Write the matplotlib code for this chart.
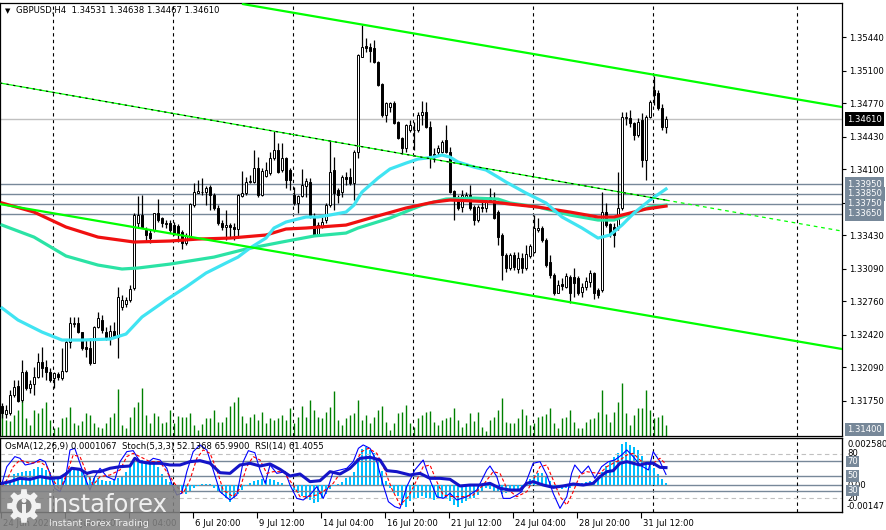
import numpy as np
import matplotlib
matplotlib.use("Agg")
import matplotlib.pyplot as plt
from matplotlib import transforms
from matplotlib.patches import Rectangle, Polygon, Circle

# ---- GBPUSD H4 candles ----
open_ = [
    1.31697, 1.31616, 1.31626, 1.31809, 1.31900, 1.31758, 1.32042, 1.31880, 1.31920, 1.31992,
    1.32144, 1.32093, 1.32042, 1.31981, 1.32022, 1.31981, 1.32052, 1.32347, 1.32529, 1.32540,
    1.32448, 1.32296, 1.32286, 1.32134, 1.32499, 1.32570, 1.32448, 1.32397, 1.32458, 1.32397,
    1.32702, 1.32732, 1.32773, 1.32895, 1.33555, 1.33636, 1.33484, 1.33453, 1.33484, 1.33656,
    1.33605, 1.33544, 1.33555, 1.33534, 1.33524, 1.33463, 1.33352, 1.33412, 1.33737, 1.33859,
    1.33869, 1.33869, 1.33920, 1.33839, 1.33707, 1.33555, 1.33514, 1.33534, 1.33514, 1.33494,
    1.33829, 1.33859, 1.33971, 1.33971, 1.34113, 1.33839, 1.34032, 1.34062, 1.34214, 1.34296,
    1.34093, 1.34214, 1.34093, 1.33839, 1.33758, 1.33829, 1.33930, 1.33971, 1.33616, 1.33433,
    1.33514, 1.33585, 1.33737, 1.34093, 1.33890, 1.33869, 1.34022, 1.34022, 1.33961, 1.34275,
    1.35239, 1.35351, 1.35341, 1.35331, 1.35189, 1.34965, 1.34651, 1.34732, 1.34773, 1.34580,
    1.34417, 1.34316, 1.34499, 1.34499, 1.34499, 1.34651, 1.34681, 1.34529, 1.34255, 1.34275,
    1.34275, 1.34397, 1.34275, 1.33879, 1.33818, 1.33717, 1.33808, 1.33839, 1.33717, 1.33585,
    1.33717, 1.33707, 1.33818, 1.33788, 1.33666, 1.33433, 1.33230, 1.33098, 1.33230, 1.33088,
    1.33199, 1.33098, 1.33220, 1.33260, 1.33484, 1.33504, 1.33382, 1.33159, 1.33027, 1.32844,
    1.32935, 1.32905, 1.33007, 1.33007, 1.32996, 1.32854, 1.32905, 1.32956, 1.33047, 1.32875,
    1.32875, 1.33666, 1.33544, 1.33514, 1.33504, 1.33707, 1.34620, 1.34620, 1.34570, 1.34448,
    1.34600, 1.34194, 1.34630, 1.34905, 1.34874, 1.34722, 1.34531]
high = [
    1.31727, 1.31707, 1.31860, 1.31961, 1.31961, 1.32164, 1.32063, 1.31961, 1.32093, 1.32235,
    1.32296, 1.32164, 1.32083, 1.32042, 1.32042, 1.32286, 1.32367, 1.32600, 1.32600, 1.32600,
    1.32448, 1.32367, 1.32387, 1.32509, 1.32651, 1.32621, 1.32499, 1.32519, 1.32550, 1.32905,
    1.32824, 1.32803, 1.32925, 1.33656, 1.33829, 1.33839, 1.33514, 1.33484, 1.33656, 1.33798,
    1.33616, 1.33585, 1.33585, 1.33565, 1.33544, 1.33484, 1.33453, 1.33758, 1.33961, 1.33991,
    1.34011, 1.33930, 1.33940, 1.33859, 1.33737, 1.33585, 1.33687, 1.33555, 1.33555, 1.33849,
    1.34082, 1.34022, 1.34042, 1.34296, 1.34224, 1.34113, 1.34174, 1.34275, 1.34488, 1.34367,
    1.34367, 1.34224, 1.34113, 1.33920, 1.33839, 1.34103, 1.34011, 1.34011, 1.33656, 1.33565,
    1.33616, 1.33758, 1.34397, 1.34224, 1.33910, 1.34042, 1.34072, 1.34113, 1.34296, 1.35270,
    1.35564, 1.35432, 1.35382, 1.35412, 1.35199, 1.34976, 1.34783, 1.34783, 1.34793, 1.34590,
    1.34427, 1.34559, 1.34600, 1.34580, 1.34681, 1.34793, 1.34783, 1.34590, 1.34316, 1.34346,
    1.34397, 1.34549, 1.34326, 1.33890, 1.33839, 1.33890, 1.33869, 1.33940, 1.33737, 1.33737,
    1.33768, 1.33818, 1.33910, 1.33869, 1.33687, 1.33453, 1.33250, 1.33250, 1.33260, 1.33260,
    1.33250, 1.33331, 1.33341, 1.33636, 1.33605, 1.33524, 1.33402, 1.33230, 1.33047, 1.32976,
    1.32996, 1.33047, 1.33027, 1.33098, 1.33017, 1.32946, 1.33007, 1.33078, 1.33057, 1.32895,
    1.33869, 1.33758, 1.33555, 1.33555, 1.34072, 1.34681, 1.34681, 1.34702, 1.34580, 1.34620,
    1.34671, 1.34651, 1.34803, 1.35047, 1.34905, 1.34762, 1.34638]
low = [
    1.31575, 1.31575, 1.31606, 1.31788, 1.31738, 1.31738, 1.31860, 1.31829, 1.31809, 1.31981,
    1.31992, 1.31961, 1.31941, 1.31880, 1.31961, 1.31961, 1.32042, 1.32286, 1.32499, 1.32438,
    1.32266, 1.32195, 1.32113, 1.32134, 1.32489, 1.32438, 1.32367, 1.32316, 1.32387, 1.32185,
    1.32672, 1.32702, 1.32753, 1.32875, 1.33514, 1.33504, 1.33362, 1.33352, 1.33463, 1.33565,
    1.33514, 1.33504, 1.33453, 1.33433, 1.33362, 1.33291, 1.33331, 1.33402, 1.33717, 1.33859,
    1.33839, 1.33737, 1.33687, 1.33687, 1.33534, 1.33484, 1.33382, 1.33402, 1.33382, 1.33402,
    1.33818, 1.33839, 1.33961, 1.33961, 1.33818, 1.33829, 1.34022, 1.34042, 1.34194, 1.34062,
    1.34072, 1.33910, 1.33890, 1.33737, 1.33656, 1.33818, 1.33818, 1.33605, 1.33423, 1.33423,
    1.33504, 1.33555, 1.33717, 1.33687, 1.33758, 1.33818, 1.33940, 1.33940, 1.33788, 1.34214,
    1.35239, 1.35290, 1.35189, 1.35179, 1.34945, 1.34630, 1.34580, 1.34681, 1.34559, 1.34407,
    1.34255, 1.34275, 1.34478, 1.34296, 1.34478, 1.34549, 1.34519, 1.34113, 1.34174, 1.34245,
    1.34265, 1.34265, 1.33859, 1.33585, 1.33687, 1.33666, 1.33788, 1.33687, 1.33534, 1.33565,
    1.33666, 1.33666, 1.33768, 1.33595, 1.33331, 1.32976, 1.33057, 1.33078, 1.33078, 1.33047,
    1.33047, 1.33078, 1.33199, 1.33250, 1.33463, 1.33362, 1.33108, 1.32996, 1.32824, 1.32844,
    1.32875, 1.32895, 1.32743, 1.32803, 1.32824, 1.32803, 1.32875, 1.32905, 1.32783, 1.32793,
    1.32854, 1.33514, 1.33412, 1.33311, 1.33484, 1.33687, 1.34549, 1.34529, 1.34397, 1.34427,
    1.34123, 1.33991, 1.34620, 1.34752, 1.34702, 1.34499, 1.34467]
close_ = [
    1.31626, 1.31656, 1.31809, 1.31890, 1.31748, 1.32042, 1.31880, 1.31920, 1.31992, 1.32144,
    1.32083, 1.32042, 1.31961, 1.32032, 1.31992, 1.32052, 1.32347, 1.32540, 1.32540, 1.32448,
    1.32286, 1.32276, 1.32134, 1.32499, 1.32590, 1.32468, 1.32397, 1.32458, 1.32397, 1.32803,
    1.32773, 1.32773, 1.32885, 1.33636, 1.33636, 1.33514, 1.33433, 1.33402, 1.33656, 1.33585,
    1.33555, 1.33555, 1.33484, 1.33453, 1.33443, 1.33352, 1.33423, 1.33747, 1.33869, 1.33879,
    1.33869, 1.33910, 1.33839, 1.33707, 1.33555, 1.33514, 1.33534, 1.33514, 1.33494, 1.33839,
    1.33859, 1.33971, 1.33981, 1.34113, 1.33839, 1.34082, 1.34093, 1.34214, 1.34296, 1.34072,
    1.34214, 1.33991, 1.33991, 1.33758, 1.33829, 1.33940, 1.33981, 1.33616, 1.33433, 1.33534,
    1.33565, 1.33737, 1.34072, 1.33859, 1.33839, 1.34022, 1.34001, 1.33961, 1.34275, 1.35260,
    1.35341, 1.35331, 1.35300, 1.35189, 1.34955, 1.34651, 1.34773, 1.34773, 1.34570, 1.34417,
    1.34316, 1.34549, 1.34549, 1.34499, 1.34651, 1.34681, 1.34529, 1.34245, 1.34224, 1.34316,
    1.34377, 1.34275, 1.33869, 1.33808, 1.33707, 1.33839, 1.33839, 1.33707, 1.33585, 1.33717,
    1.33707, 1.33768, 1.33788, 1.33605, 1.33412, 1.33230, 1.33098, 1.33230, 1.33108, 1.33199,
    1.33098, 1.33240, 1.33321, 1.33504, 1.33504, 1.33382, 1.33128, 1.33027, 1.32844, 1.32925,
    1.32915, 1.33017, 1.32844, 1.32946, 1.32844, 1.32905, 1.32966, 1.33047, 1.32844, 1.32824,
    1.33666, 1.33534, 1.33443, 1.33433, 1.33707, 1.34630, 1.34630, 1.34570, 1.34448, 1.34580,
    1.34194, 1.34630, 1.34783, 1.34854, 1.34722, 1.34529, 1.34610]
volume = [
    2300, 1600, 1500, 2100, 2600, 4500, 1800, 1100, 2600, 2300,
    2800, 3400, 1600, 800, 900, 1800, 1900, 2900, 1300, 1100,
    1500, 2300, 2100, 1300, 900, 800, 1300, 1900, 2300, 4700,
    1100, 800, 1900, 2900, 3400, 4800, 2100, 1300, 2300, 2000,
    1300, 1400, 2600, 1300, 2000, 1900, 1900, 2300, 1100, 600,
    1200, 1800, 1800, 2600, 1400, 1400, 1900, 3000, 3400, 3900,
    2000, 1300, 1900, 2200, 1600, 2400, 1300, 1800, 1600, 1800,
    2100, 1600, 2800, 1300, 1900, 3000, 1900, 3600, 2600, 1900,
    1800, 2400, 2900, 4500, 1600, 1100, 1800, 2100, 2300, 3600,
    1600, 2100, 1300, 1900, 2600, 3000, 1400, 600, 1300, 2300,
    2400, 3100, 1300, 900, 1800, 2100, 2400, 2500, 1400, 1100,
    1600, 1800, 1900, 2800, 1600, 900, 1300, 2300, 1500, 2400,
    900, 500, 1600, 1900, 2600, 3800, 1400, 1300, 1300, 1800,
    2700, 2100, 1100, 1300, 1900, 2000, 2200, 2800, 1300, 800,
    1800, 1900, 2600, 1400, 800, 800, 1400, 1700, 1800, 2400,
    4600, 2200, 1400, 2400, 3400, 5300, 2300, 1100, 2100, 2800,
    2800, 4600, 2600, 1800, 1900, 2100, 1100]

# moving averages (bar index, price)
ma_red_bar = [0, 8, 16, 24, 33, 42, 49, 57, 66, 71, 76, 86, 93, 101, 108, 112,
              118, 123, 127, 134, 142, 149, 153, 157, 161, 166]
ma_red = [1.33758, 1.33666, 1.33514, 1.33412, 1.33362, 1.33372, 1.33392, 1.33402,
          1.33433, 1.33494, 1.33504, 1.33534, 1.33616, 1.33707, 1.33768, 1.33788,
          1.33778, 1.33768, 1.33747, 1.33717, 1.33666, 1.33616, 1.33616, 1.33656,
          1.33697, 1.33727]
ma_teal_bar = [0, 8, 16, 24, 30, 34, 42, 53, 61, 70, 78, 86, 89, 97, 105, 111,
               118, 124, 127, 134, 142, 149, 153, 157, 162, 166]
ma_teal = [1.33534, 1.33412, 1.33220, 1.33128, 1.33088, 1.33098, 1.33138, 1.33209,
           1.33291, 1.33362, 1.33423, 1.33453, 1.33504, 1.33605, 1.33737, 1.33798,
           1.33808, 1.33798, 1.33758, 1.33717, 1.33636, 1.33585, 1.33585, 1.33646,
           1.33717, 1.33737]
ma_cyan_bar = [0, 4, 10, 15, 20, 27, 31, 35, 40, 41, 46, 51, 56, 59, 62, 66, 68,
               71, 76, 79, 82, 86, 88, 90, 94, 97, 101, 104, 108, 110, 112, 114,
               118, 121, 124, 126, 131, 136, 140, 145, 149, 152, 155, 158, 162, 166]
ma_cyan = [1.32692, 1.32570, 1.32448, 1.32367, 1.32367, 1.32377, 1.32428, 1.32601,
           1.32743, 1.32773, 1.32905, 1.33047, 1.33149, 1.33209, 1.33301, 1.33402,
           1.33504, 1.33565, 1.33616, 1.33616, 1.33636, 1.33666, 1.33737, 1.33869,
           1.34011, 1.34103, 1.34163, 1.34204, 1.34224, 1.34245, 1.34224, 1.34174,
           1.34123, 1.34093, 1.34021, 1.33971, 1.33859, 1.33758, 1.33616, 1.33504,
           1.33402, 1.33433, 1.33534, 1.33656, 1.33788, 1.33900]

# channel / trend lines (bar index, price)
ch_up_bar, ch_up = [60.25, 210], [1.35777, 1.34732]
ch_lo_bar, ch_lo = [-0.5, 210], [1.33747, 1.32276]
ch_mid_bar, ch_mid = [-0.5, 166, 210], [1.34976, 1.33787, 1.33473]
levels = [1.33950, 1.33850, 1.33750, 1.33650]
last_price = 1.34610
price_ticks = [1.35440, 1.35100, 1.34770, 1.34430, 1.34100, 1.33760, 1.33430,
               1.33090, 1.32760, 1.32420, 1.32090, 1.31750]

# oscillators
osma_pts = [
    9, 15, 24, 60, 66, 73, 75, 79, 88, 97,
    93, 84, 70, 48, 33, 48, 70, 84, 92, 92,
    81, 55, 42, 40, 37, 26, 22, 24, 33, 38,
    48, 70, 102, 128, 134, 137, 134, 128, 121, 102,
    60, 33, 15, -4, -18, -44, -49, -37, -18, -7,
    5, 7, 4, -13, -31, -49, -68, -92, -73, -49,
    -26, -7, 11, 24, 29, 33, 29, 33, 29, 18,
    11, 1, -7, -26, -44, -59, -68, -81, -99, -92,
    -68, -49, -22, -7, 5, 18, 37, 51, 73, 146,
    198, 207, 194, 176, 134, 79, 24, -18, -44, -59,
    -110, -117, -86, -77, -68, -59, -68, -73, -81, -77,
    -68, -71, -86, -110, -117, -99, -86, -77, -68, -55,
    -31, -18, -22, -31, -37, -49, -44, -37, -31, -26,
    -13, 5, 33, 55, 66, 64, 42, 24, -4, -18,
    -22, -15, -13, -4, 5, 11, 18, 24, 24, 29,
    70, 106, 124, 152, 176, 225, 238, 220, 207, 194,
    161, 134, 115, 92, 60, 33, 11]
rsi_bar = [0, 2, 4.5, 7, 9.5, 12, 14.5, 16.2, 17.4, 19.5, 21.2, 22.8, 24.5, 27,
           29.5, 32, 33.2, 34.5, 37, 39.5, 42, 44.5, 47, 49.5, 52, 54.5, 57,
           59.5, 62, 64.5, 67, 69.5, 72, 74.5, 77, 79.5, 82, 84.5, 87, 89.5,
           92, 94.5, 96.2, 98.7, 102, 104.5, 107, 109.5, 112, 114.5, 117,
           119.5, 122, 124.5, 127, 129.5, 131.2, 132.8, 135.3, 137.8, 140.3,
           142.8, 145.3, 147.8, 149.5, 151.2, 152.8, 154.5, 156.2, 157.8,
           159.5, 161.2, 162.8, 164.5, 166]
rsi = [40.0, 42.3, 46.8, 45.5, 49.1, 46.8, 47.7, 53.6, 60.5, 59.1, 53.6, 55.9,
       55.9, 60.5, 62.7, 63.6, 74.1, 69.5, 67.3, 67.3, 65.0, 65.0, 69.5, 70.9,
       67.3, 54.5, 53.6, 65.0, 67.3, 63.6, 66.4, 59.1, 50.0, 52.7, 42.3, 43.6,
       55.9, 52.7, 60.5, 74.1, 75.5, 71.8, 57.3, 55.9, 51.4, 53.6, 46.8, 46.8,
       45.5, 36.4, 37.7, 37.7, 40.0, 33.2, 30.9, 30.9, 40.0, 42.3, 37.7, 34.5,
       36.4, 39.1, 37.7, 40.0, 49.1, 55.9, 57.3, 67.3, 69.5, 67.3, 65.0, 67.3,
       67.3, 61.8, 61.4]
stoch_bar = [0, 1.2, 3.2, 4.5, 5.8, 7.8, 9.5, 10.8, 12, 13.2, 14.5, 15.8, 17,
             18.2, 19.5, 20.8, 22, 23.2, 24.5, 26.2, 28.2, 29.5, 31.2, 32.8,
             34.5, 36.2, 37.8, 39.5, 41.2, 42.4, 43.7, 44.9, 46.2, 47.8, 49.5,
             51.2, 52.8, 54.5, 57, 58.7, 60.3, 61.6, 63.2, 64.5, 65.8, 67, 68.7,
             70.8, 72, 73.7, 75.3, 77, 78.7, 80.3, 81.6, 82.8, 84.5, 86.2, 87.8,
             89.1, 90.3, 92, 93.7, 95.3, 96.6, 98.2, 99.5, 101.2, 103.2, 105.3,
             107, 108.7, 110.3, 112, 113.7, 116.2, 118.7, 121.2, 122, 123.7,
             125.3, 127, 128.7, 129.9, 131.2, 132.8, 134.5, 136.2, 137.8, 139.5,
             141.2, 142.4, 143.2, 144.9, 146.6, 148.2, 149.9, 151.6, 153.2,
             154.9, 156.2, 157.8, 159.5, 161.6, 162.8, 164.5, 166]
stoch_main = [40.0, 62.7, 76.4, 74.1, 65.0, 67.3, 72.7, 69.5, 53.6, 33.2, 28.6,
              44.5, 85.5, 87.7, 67.3, 46.8, 30.9, 49.1, 60.5, 49.1, 44.5, 69.5,
              83.2, 84.5, 69.5, 67.3, 74.1, 71.8, 60.5, 40.0, 24.1, 26.4, 55.9,
              83.2, 92.3, 85.5, 58.2, 28.6, 17.3, 24.1, 69.5, 84.5, 81.8, 58.2,
              40.0, 65.0, 53.6, 55.9, 37.7, 19.5, 17.3, 24.1, 35.5, 19.5, 35.5,
              55.9, 58.2, 60.5, 69.5, 87.7, 92.3, 87.7, 69.5, 37.7, 15.0, 8.2,
              5.9, 35.5, 58.2, 71.8, 44.5, 21.8, 19.5, 26.4, 17.3, 21.8, 30.9,
              58.2, 63.6, 49.1, 19.5, 19.5, 24.1, 28.6, 44.5, 67.3, 69.5, 51.4,
              26.4, 5.9, 21.8, 53.6, 65.0, 53.6, 63.6, 46.8, 62.7, 69.5, 71.8,
              78.6, 85.5, 76.4, 65.0, 58.2, 83.2, 69.5, 52.1]
sig_bar = [0, 1.2, 2.8, 4.5, 7, 9.5, 11.2, 12.8, 14.5, 16.2, 17.8, 19.5, 21.2,
           22.8, 24.5, 27, 29.5, 31.2, 32.8, 34.5, 37, 39.5, 42, 43.7, 45.3, 47,
           48.7, 50.3, 52, 53.7, 55.3, 57.8, 59.5, 61.2, 62.8, 64.5, 66.2, 67.8,
           70.3, 72.8, 74.5, 76.2, 78.7, 80.8, 82.8, 84.5, 86.6, 88.2, 89.9,
           91.6, 93.7, 95.7, 97.4, 99.5, 101.6, 103.7, 105.3, 107, 108.7, 110.3,
           112.8, 115.3, 117.8, 120.3, 122.8, 124.5, 126.2, 128.7, 131.2, 132.8,
           134.5, 136.2, 137.8, 139.5, 141.2, 142.8, 144.5, 146.2, 147.8, 149.5,
           151.2, 152.8, 154.5, 156.2, 157.8, 159.5, 161.2, 162.8, 164.5, 166]
stoch_sig = [35.5, 44.5, 62.7, 71.8, 67.3, 69.5, 62.7, 44.5, 30.9, 53.6, 78.6,
             76.4, 53.6, 37.7, 49.1, 51.4, 58.2, 76.4, 80.9, 76.4, 69.5, 69.5,
             49.1, 35.5, 26.4, 44.5, 74.1, 85.5, 80.9, 58.2, 30.9, 21.8, 33.2,
             62.7, 76.4, 71.8, 53.6, 55.9, 55.9, 37.7, 21.8, 21.8, 24.1, 30.9,
             40.0, 53.6, 58.2, 67.3, 83.2, 87.7, 80.9, 58.2, 33.2, 10.5, 21.8,
             44.5, 62.7, 65.0, 42.3, 24.1, 21.8, 21.8, 24.1, 37.7, 55.9, 53.6,
             33.2, 21.8, 28.6, 44.5, 62.7, 65.0, 44.5, 21.8, 10.5, 28.6, 51.4,
             55.9, 54.5, 53.6, 62.7, 67.3, 71.8, 78.6, 80.9, 71.8, 65.0, 67.3,
             74.1, 66.0]

time_labels = ["24 Jun 2025", "26 Jun 20:00", "1 Jul 04:00", "6 Jul 20:00",
               "9 Jul 12:00", "14 Jul 04:00", "16 Jul 20:00", "21 Jul 12:00",
               "24 Jul 04:00", "28 Jul 20:00", "31 Jul 12:00"]
time_bars = [-0.25 + 16 * k for k in range(len(time_labels))]
day_sep = [12.75, 42.75, 72.75, 102.75, 132.75, 162.75, 198.75]

# ---------------------------------------------------------------
W, H = 886, 530
plt.rcParams['font.family'] = ['DejaVu Sans']
fig = plt.figure(figsize=(W / 100, H / 100), dpi=100)
fig.patch.set_facecolor('white')


def rect(x0, y0, x1, y1):
    return [x0 / W, 1 - y1 / H, (x1 - x0) / W, (y1 - y0) / H]


XMIN, XMAX = -0.5, 210
YMIN, YMAX = 1.31393, 1.35788
FS = 6.1
idx = np.arange(len(close_))
o, h, l, c = map(np.array, (open_, high, low, close_))

# volumes sit under the price axes
ax_vol = fig.add_axes(rect(0, 3, 842, 436))
ax_vol.vlines(idx, 0, volume, color='#008000', lw=1)
ax_vol.set_xlim(XMIN, XMAX)
ax_vol.set_ylim(0, 43300)
ax_vol.axis('off')

ax = fig.add_axes(rect(0, 3, 842, 436))
ax.patch.set_alpha(0)
ax.set_xlim(XMIN, XMAX)
ax.set_ylim(YMIN, YMAX)
for s in ax.spines.values():
    s.set_linewidth(0.9)

for b in day_sep:
    ax.axvline(b, color='black', lw=0.8, ls=(0, (3, 3)), zorder=1)
for p in levels:
    ax.axhline(p, color='#778899', lw=1, zorder=1.5)
ax.axhline(last_price, color='#C0C0C0', lw=1, zorder=1.5)

# candles
ax.vlines(idx, l, h, color='black', lw=0.9, zorder=3)
bull = c >= o
body = np.maximum(np.abs(c - o), 0.00002)
ax.bar(idx, body, bottom=np.minimum(o, c), width=0.72,
       color=np.where(bull, 'white', 'black'), edgecolor='black', linewidth=0.7,
       zorder=3.5)

# moving averages
ax.plot(ma_teal_bar, ma_teal, color='#2BE3A5', lw=2.3, zorder=4)
ax.plot(ma_red_bar, ma_red, color='#F01010', lw=2.3, zorder=4.1)
ax.plot(ma_cyan_bar, ma_cyan, color='#40E4F2', lw=2.3, zorder=4.2)

# channel
ax.plot(ch_up_bar, ch_up, color='#00FF00', lw=1.6, zorder=5)
ax.plot(ch_lo_bar, ch_lo, color='#00FF00', lw=1.6, zorder=5)
ax.plot(ch_mid_bar[:2], ch_mid[:2], color='#00FF00', lw=0.9, zorder=5)
ax.plot(ch_mid_bar[:2], ch_mid[:2], color='black', lw=0.8, ls=(0, (2, 4)), zorder=5.1)
ax.plot(ch_mid_bar[1:], ch_mid[1:], color='#00FF00', lw=0.9, ls=(0, (3, 3)), zorder=5)

ax.set_xticks([])
ax.yaxis.tick_right()
ax.set_yticks(price_ticks)
ax.set_yticklabels([f'{v:.5f}' for v in price_ticks])
ax.tick_params(axis='y', direction='out', length=3, width=0.8, labelsize=FS, pad=2)

ytr = transforms.blended_transform_factory(ax.transAxes, ax.transData)
ax.text(1.006, last_price, f'{last_price:.5f}', transform=ytr, ha='left', va='center',
        fontsize=FS, color='white', zorder=10,
        bbox=dict(boxstyle='square,pad=0.25', fc='black', ec='none'))
for p in levels:
    ax.text(1.006, p, f'{p:.5f}', transform=ytr, ha='left', va='center', fontsize=FS,
            color='white', zorder=10,
            bbox=dict(boxstyle='square,pad=0.3', fc='#778899', ec='none'))
ax.text(1.006, 0.004, '1.31400', transform=ax.transAxes, ha='left', va='bottom',
        fontsize=FS, color='white', zorder=10,
        bbox=dict(boxstyle='square,pad=0.25', fc='#778899', ec='none'))

fig.text(5 / W, 1 - 11 / H, '\u25bc', fontsize=5, va='center')
fig.text(16 / W, 1 - 11 / H, 'GBPUSD,H4  1.34531 1.34638 1.34467 1.34610',
         fontsize=FS, va='center')

# ---- indicator window ----
axi = fig.add_axes(rect(0, 438, 842, 512))
axi.set_xlim(XMIN, XMAX)
axi.set_ylim(-0.00147, 0.00258)
axi.axhline(0, color='#778899', lw=1, zorder=1)
axi.bar(idx, np.array(osma_pts) * 1e-5, width=0.5, color='#00BFFF', lw=0, zorder=2)
for b in day_sep:
    axi.axvline(b, color='black', lw=0.8, ls=(0, (3, 3)), zorder=1)
for s in axi.spines.values():
    s.set_linewidth(0.9)
axi.set_yticks([])
axi.set_xticks(time_bars)
axi.set_xticklabels(time_labels)
axi.tick_params(axis='x', direction='out', length=4, width=0.8, labelsize=FS, pad=1)
shift = transforms.ScaledTranslation(2 / 100, 0, fig.dpi_scale_trans)
for t in axi.get_xticklabels():
    t.set_ha('left')
    t.set_transform(t.get_transform() + shift)

axs = axi.twinx()
axs.set_ylim(0.95, 101.77)
axs.set_yticks([])
for lv in (80, 20):
    axs.axhline(lv, color='#C0C0C0', lw=0.8, ls=(0, (4, 3)), zorder=1)
for lv in (70, 50, 30):
    axs.axhline(lv, color='#778899', lw=1, zorder=1)
axs.plot(stoch_bar, stoch_main, color='#0000FF', lw=0.8, zorder=3)
axs.plot(sig_bar, stoch_sig, color='#FF0000', lw=0.8, ls=(0, (3, 2)), zorder=3)
axs.plot(rsi_bar, rsi, color='#1414C8', lw=2.2, zorder=4)

itr = transforms.blended_transform_factory(axs.transAxes, axs.transData)
for lv in (80, 20):
    axs.text(1.006, lv, str(lv), transform=itr, ha='left', va='center', fontsize=FS)
for lv in (70, 50, 30):
    axs.text(1.006, lv, str(lv), transform=itr, ha='left', va='center', fontsize=FS,
             color='white', bbox=dict(boxstyle='square,pad=0.15', fc='#778899', ec='none'))
otr = transforms.blended_transform_factory(axi.transAxes, axi.transData)
axi.text(1.006, 0.0, '0.00', transform=otr, ha='left', va='center', fontsize=FS)
axi.text(1.006, 0.97, '0.0025800', transform=axi.transAxes, ha='left', va='top',
         fontsize=FS)
axi.text(1.006, 0.02, '-0.00147', transform=axi.transAxes, ha='left', va='bottom',
         fontsize=FS)
fig.text(5 / W, 1 - 447 / H,
         'OsMA(12,26,9) 0.0001067  Stoch(5,3,3) 52.1368 65.9900  RSI(14) 61.4055',
         fontsize=FS, va='center')

# ---- watermark ----
axl = fig.add_axes(rect(0, 485, 180, 530))
axl.set_xlim(0, 180)
axl.set_ylim(530, 485)
axl.axis('off')
axl.add_patch(Rectangle((0, 485), 180, 45, fc='#808080', ec='none', alpha=0.88))
ang = []
for k in range(8):
    a = np.deg2rad(45 * k)
    for da, r in ((-15, 12.5), (-9, 17), (9, 17), (15, 12.5)):
        ang.append((24 + r * np.cos(a + np.deg2rad(da)), 506 + r * np.sin(a + np.deg2rad(da))))
axl.add_patch(Polygon(ang, closed=True, fc='#F2F2F2', ec='none'))
axl.add_patch(Circle((24, 506), 7.5, fc='#808080', ec='none'))
axl.add_patch(Circle((24, 500.5), 2.4, fc='#F2F2F2', ec='none'))
axl.add_patch(Rectangle((22, 503.5), 4, 11, fc='#F2F2F2', ec='none'))
axl.text(47, 512, 'instaforex', fontsize=17.5, color='#F0F0F0', va='baseline')
axl.text(49, 526, 'Instant Forex Trading', fontsize=6.8, color='#F0F0F0', va='baseline')

fig.savefig('out.png', dpi=100)
